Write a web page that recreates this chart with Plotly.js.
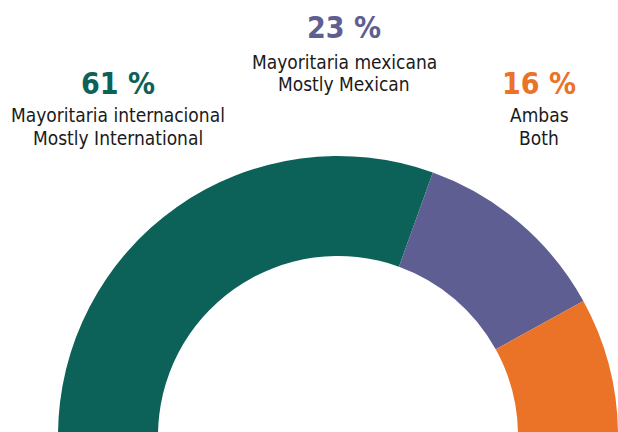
<!DOCTYPE html>
<html>
<head>
<meta charset="utf-8">
<script src="https://cdn.plot.ly/plotly-3.0.1.min.js"></script>
<style>
  html, body { margin: 0; padding: 0; background: #ffffff; overflow: hidden; width: 618px; height: 432px; }
  #chart { width: 618px; height: 720px; }
</style>
</head>
<body>
<div id="chart"></div>
<script>
// ---- data ----
const categoriesEs = ['Mayoritaria internacional', 'Mayoritaria mexicana', 'Ambas'];
const categoriesEn = ['Mostly International', 'Mostly Mexican', 'Both'];
const shares = [61, 23, 16];
const sliceColors = ['#0c6158', '#5e5e92', '#eb7327'];

// ---- layout constants (pixels in a 618 x 720 canvas, only top 432 visible) ----
const W = 618, H = 720;
const cx = 338, cy = 436, R = 280, rInner = 180;
const labelX = [118, 344, 539];
const numberY = [83, 28, 83];
const line1Y = [115, 62, 115];
const line2Y = [138, 84, 138];

const FONT = "'Liberation Sans Narrow', 'DejaVu Sans Condensed', 'Roboto', sans-serif";

const total = shares.reduce((a, b) => a + b, 0);
const trace = {
  type: 'pie',
  values: shares.concat([total]),
  labels: categoriesEn.concat(['']),
  marker: { colors: sliceColors.concat(['rgba(0,0,0,0)']), line: { width: 0 } },
  hole: rInner / R,
  sort: false,
  direction: 'clockwise',
  rotation: -90,
  textinfo: 'none',
  hoverinfo: 'skip',
  showlegend: false,
  domain: {
    x: [(cx - R) / W, Math.min(1, (cx + R) / W)],
    y: [(H - cy - R) / H, (H - cy + R) / H]
  }
};

const px = x => x / W;
const py = y => 1 - y / H;
const annotations = [];
for (let i = 0; i < shares.length; i++) {
  annotations.push({
    xref: 'paper', yref: 'paper', x: px(labelX[i]), y: py(numberY[i]),
    xanchor: 'center', yanchor: 'middle', showarrow: false,
    text: '<b>' + shares[i] + ' %</b>',
    font: { family: FONT, size: 30, color: sliceColors[i] }
  });
  annotations.push({
    xref: 'paper', yref: 'paper', x: px(labelX[i]), y: py(line1Y[i]),
    xanchor: 'center', yanchor: 'middle', showarrow: false,
    text: categoriesEs[i],
    font: { family: FONT, size: 19, color: '#1a1a1a' }
  });
  annotations.push({
    xref: 'paper', yref: 'paper', x: px(labelX[i]), y: py(line2Y[i]),
    xanchor: 'center', yanchor: 'middle', showarrow: false,
    text: categoriesEn[i],
    font: { family: FONT, size: 19, color: '#1a1a1a' }
  });
}

const layout = {
  width: W, height: H,
  margin: { l: 0, r: 0, t: 0, b: 0, pad: 0 },
  paper_bgcolor: '#ffffff',
  plot_bgcolor: '#ffffff',
  showlegend: false,
  annotations: annotations
};

Plotly.newPlot('chart', [trace], layout, { displayModeBar: false, staticPlot: true });
</script>
</body>
</html>
